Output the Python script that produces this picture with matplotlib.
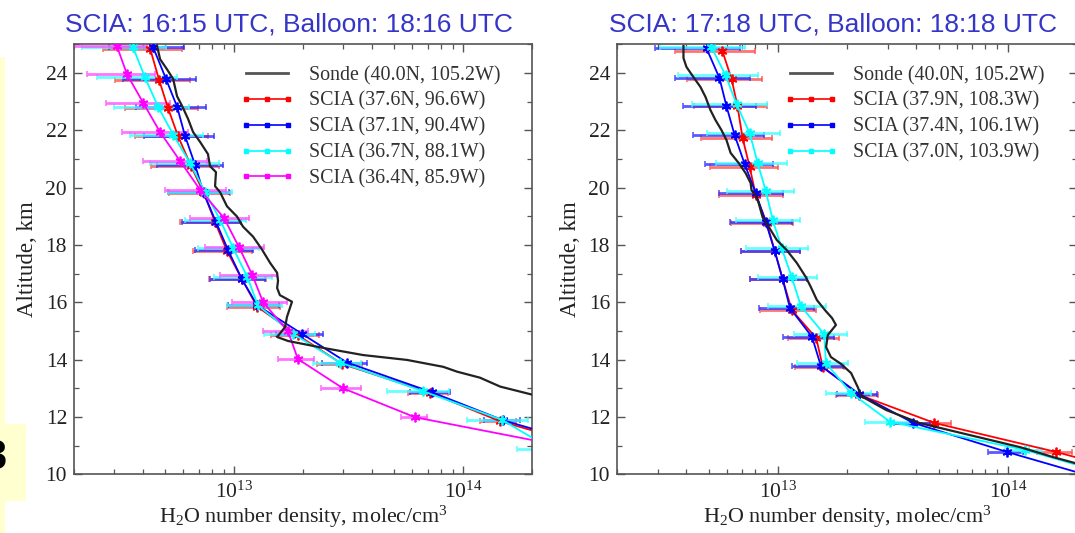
import numpy as np
import matplotlib
matplotlib.use('Agg')
import matplotlib.pyplot as plt
from matplotlib.lines import Line2D
from matplotlib.patches import Rectangle
from matplotlib.ticker import MultipleLocator, LogLocator, NullFormatter

# ---------------- data ----------------
# Left panel: sonde profile (log10 density, altitude km)
sondeL_logx = [12.664, 12.677, 12.707, 12.734, 12.751, 12.773, 12.799, 12.821, 12.852, 12.886,
               12.895, 12.921, 12.917, 12.939, 12.969, 13.013, 13.039, 13.083, 13.122, 13.157,
               13.188, 13.192, 13.188, 13.200, 13.253, 13.231, 13.223, 13.188, 13.236, 13.389,
               13.563, 13.755, 13.913, 13.974, 14.074, 14.162, 14.301, 14.42]
sondeL_alt = [24.93, 24.48, 24.13, 23.79, 23.19, 22.85, 22.40, 21.94, 21.59, 21.17,
              20.75, 20.54, 20.05, 19.84, 19.35, 18.99, 18.64, 18.29, 17.84, 17.38,
              17.03, 16.75, 16.50, 16.25, 16.02, 15.49, 15.14, 14.79, 14.65, 14.41,
              14.16, 13.99, 13.75, 13.58, 13.37, 13.06, 12.78, 12.50]

redL_alt = [24.85, 23.77, 22.77, 21.80, 20.75, 19.80, 18.80, 17.80, 16.82, 15.85, 14.85, 13.85, 12.85, 11.85, 10.85]
redL_x = [4.30e12, 4.70e12, 5.15e12, 5.69e12, 6.49e12, 7.39e12, 8.26e12, 9.30e12, 1.08e13, 1.26e13,
          1.90e13, 2.96e13, 7.18e13, 1.45e14, 4.0e14]
redL_err = [0.38, 0.36, 0.35, 0.35, 0.33, 0.30, 0.30, 0.29, 0.28, 0.26, 0.24, 0.22, 0.20, 0.18, 0.17]

blueL_alt = [24.90, 23.80, 22.82, 21.80, 20.79, 19.85, 18.80, 17.82, 16.82, 15.90, 14.90, 13.90, 12.86, 11.88, 10.85]
blueL_x = [4.43e12, 5.04e12, 5.64e12, 6.11e12, 6.76e12, 7.33e12, 8.34e12, 9.42e12, 1.08e13, 1.26e13,
           1.98e13, 3.11e13, 7.33e13, 1.50e14, 4.2e14]
blueL_err = [0.36, 0.35, 0.34, 0.34, 0.32, 0.30, 0.29, 0.28, 0.27, 0.25, 0.23, 0.22, 0.20, 0.18, 0.17]

cyanL_alt = [24.90, 23.85, 22.82, 21.85, 20.85, 19.85, 18.87, 17.90, 16.90, 15.90, 14.90, 13.90, 12.90, 11.90, 10.90]
cyanL_x = [3.62e12, 4.08e12, 4.66e12, 5.42e12, 6.43e12, 7.47e12, 8.70e12, 9.90e12, 1.14e13, 1.27e13,
           1.81e13, 2.90e13, 6.68e13, 1.48e14, 2.4e14]
cyanL_err = [0.40, 0.38, 0.36, 0.35, 0.33, 0.31, 0.30, 0.30, 0.28, 0.27, 0.25, 0.24, 0.30, 0.30, 0.28]

magL_alt = [24.93, 23.95, 22.96, 21.94, 20.93, 19.92, 18.94, 17.93, 16.96, 16.00, 14.99, 14.02, 13.00, 11.99, 10.95]
magL_x = [3.08e12, 3.41e12, 4.01e12, 4.75e12, 5.81e12, 7.11e12, 9.04e12, 1.05e13, 1.20e13, 1.34e13,
          1.72e13, 1.90e13, 2.99e13, 6.17e13, 2.88e14]
magL_err = [0.35, 0.33, 0.31, 0.32, 0.31, 0.30, 0.29, 0.29, 0.28, 0.27, 0.22, 0.18, 0.20, 0.13, 0.12]

# Right panel
sondeR_logx = [12.590, 12.590, 12.603, 12.633, 12.664, 12.686, 12.707, 12.729, 12.755, 12.777,
               12.795, 12.830, 12.860, 12.882, 12.886, 12.904, 12.917, 12.934, 12.961, 12.996,
               13.039, 13.083, 13.122, 13.144, 13.170, 13.205, 13.236, 13.253, 13.218, 13.210,
               13.231, 13.275, 13.319, 13.349, 13.362, 13.472, 13.616, 13.834, 14.052, 14.197,
               14.293, 14.40]
sondeR_alt = [24.94, 24.52, 24.21, 23.86, 23.51, 23.16, 22.71, 22.36, 22.01, 21.66,
              21.21, 20.86, 20.51, 20.16, 19.91, 19.74, 19.46, 18.97, 18.63, 18.17,
              17.82, 17.37, 16.88, 16.53, 16.08, 15.73, 15.45, 15.21, 14.86, 14.44,
              14.09, 13.85, 13.53, 13.02, 12.73, 12.24, 11.79, 11.37, 10.95, 10.60,
              10.39, 10.15]

redR_alt = [24.76, 23.78, 22.85, 21.73, 20.72, 19.74, 18.77, 17.79, 16.81, 15.73, 14.75, 13.74, 12.77, 11.79, 10.78, 9.77]
redR_x = [5.75e12, 6.30e12, 6.68e12, 7.03e12, 7.55e12, 8.02e12, 8.95e12, 9.70e12, 1.05e13, 1.15e13,
          1.47e13, 1.57e13, 2.26e13, 4.80e13, 1.62e14, 4.8e14]
redR_err = [0.38, 0.36, 0.35, 0.34, 0.33, 0.31, 0.30, 0.29, 0.28, 0.27, 0.25, 0.24, 0.21, 0.18, 0.17, 0.16]

blueR_alt = [24.86, 23.82, 22.85, 21.84, 20.82, 19.81, 18.80, 17.79, 16.81, 15.80, 14.79, 13.78, 12.80, 11.79, 10.78, 9.77]
blueR_x = [4.90e12, 5.58e12, 5.98e12, 6.49e12, 7.18e12, 8.02e12, 8.87e12, 9.70e12, 1.05e13, 1.13e13,
           1.41e13, 1.54e13, 2.26e13, 3.89e13, 9.91e13, 2.7e14]
blueR_err = [0.40, 0.36, 0.35, 0.34, 0.33, 0.31, 0.30, 0.29, 0.28, 0.27, 0.25, 0.25, 0.20, 0.18, 0.17, 0.16]

cyanR_alt = [24.90, 23.92, 22.91, 21.90, 20.86, 19.88, 18.87, 17.89, 16.88, 15.87, 14.89, 13.88, 12.84, 11.83, 10.85, 9.85]
cyanR_x = [5.15e12, 5.93e12, 6.62e12, 7.55e12, 8.18e12, 8.87e12, 9.51e12, 1.04e13, 1.15e13, 1.26e13,
           1.59e13, 1.62e13, 2.08e13, 3.08e13, 1.19e14, 3.2e14]
cyanR_err = [0.40, 0.38, 0.36, 0.35, 0.34, 0.32, 0.31, 0.30, 0.29, 0.28, 0.26, 0.25, 0.22, 0.22, 0.18, 0.16]

titleL = "SCIA: 16:15 UTC, Balloon: 18:16 UTC"
titleR = "SCIA: 17:18 UTC, Balloon: 18:18 UTC"
labelsL = ["Sonde (40.0N, 105.2W)", "SCIA (37.6N, 96.6W)", "SCIA (37.1N, 90.4W)",
           "SCIA (36.7N, 88.1W)", "SCIA (36.4N, 85.9W)"]
labelsR = ["Sonde (40.0N, 105.2W)", "SCIA (37.9N, 108.3W)", "SCIA (37.4N, 106.1W)",
           "SCIA (37.0N, 103.9W)"]

# ---------------- style ----------------
plt.rcParams['font.family'] = ['Liberation Serif', 'DejaVu Serif']
plt.rcParams['mathtext.fontset'] = 'custom'
plt.rcParams['mathtext.rm'] = 'Liberation Serif'
plt.rcParams['mathtext.it'] = 'Liberation Serif:italic'
plt.rcParams['mathtext.bf'] = 'Liberation Serif:bold'

W, H = 1075, 533
fig = plt.figure(figsize=(W / 100, H / 100), dpi=100)
fig.patch.set_facecolor('white')

# yellow slide remnants at left (the reference crops a large bold "3" here)
fig.patches.append(Rectangle((0, 0), 5 / W, (H - 57) / H, transform=fig.transFigure,
                             facecolor='#ffffd0', edgecolor='none', zorder=0))
fig.patches.append(Rectangle((0, (H - 501) / H), 26 / W, 77 / H, transform=fig.transFigure,
                             facecolor='#ffffd0', edgecolor='none', zorder=0))
fig.text(6 / W, (H - 458) / H, '3', fontsize=30, fontweight='bold', ha='right', va='center',
         family='Liberation Sans', color='black')

bottom = 1 - 474.3 / H
height = 430 / H
axL = fig.add_axes([74 / W, bottom, 458 / W, height])
axR = fig.add_axes([617 / W, bottom, 460 / W, height])

colors = {'red': '#ff0000', 'blue': '#0000ff', 'cyan': '#00ffff', 'mag': '#ff00ff'}
errcolors = {'red': '#ff5050', 'blue': '#3030ff', 'cyan': '#40ffff', 'mag': '#ff50ff'}


def draw(ax, sonde_logx, sonde_alt, series, title, labels):
    for key, xs, alts, errs in series:
        xs = np.array(xs)
        e = xs * np.array(errs)
        ax.errorbar(xs, alts, xerr=e, fmt='none', ecolor=errcolors[key], elinewidth=2.0,
                    capsize=2.5, capthick=1.2, alpha=0.8, zorder=2)
    for key, xs, alts, errs in series:
        ax.plot(xs, alts, color=colors[key], lw=1.3, marker=(6, 2, 0), ms=7, mew=1.3, zorder=3)
    ax.plot(10 ** np.array(sonde_logx), sonde_alt, color='#222222', lw=1.6, zorder=4)

    ax.set_xscale('log')
    ax.set_xlim(2e12, 2e14)
    ax.set_ylim(10, 25)
    ax.yaxis.set_major_locator(MultipleLocator(2))
    ax.yaxis.set_minor_locator(MultipleLocator(1))
    ax.xaxis.set_major_locator(LogLocator(base=10, numticks=10))
    ax.xaxis.set_minor_locator(LogLocator(base=10, subs=np.arange(2, 10), numticks=10))
    ax.xaxis.set_minor_formatter(NullFormatter())
    ax.tick_params(which='both', direction='in', top=True, right=True, color='#555555',
                   labelcolor='#222222')
    ax.tick_params(which='major', length=6, width=1.0, labelsize=15.5, pad=5)
    ax.tick_params(which='minor', length=3.3, width=0.9)
    for s in ax.spines.values():
        s.set_color('#555555')
        s.set_linewidth(1.2)
    ax.set_xlabel(r'H$_2$O number density, molec/cm$^3$', fontsize=15.8, color='#222222',
                  labelpad=1)
    ax.set_ylabel('Altitude, km', fontsize=16.5, color='#222222', labelpad=5)
    ax.set_title(title, fontsize=19, color='#3535c8', family='Liberation Sans', x=0.47, pad=9)

    handles = [Line2D([], [], color='#555555', lw=2.0)]
    for key, _, _, _ in series:
        handles.append(Line2D([], [], color=colors[key], lw=1.2, marker='s', ms=2.8))
    leg = ax.legend(handles, labels, loc='upper left', bbox_to_anchor=(0.362, 0.95),
                    frameon=False, fontsize=14.4, numpoints=3, handlelength=2.7,
                    handletextpad=0.75, labelspacing=0.33, borderpad=0, borderaxespad=0)
    for t in leg.get_texts():
        t.set_color('#333333')


draw(axL, sondeL_logx, sondeL_alt,
     [('red', redL_x, redL_alt, redL_err), ('blue', blueL_x, blueL_alt, blueL_err),
      ('cyan', cyanL_x, cyanL_alt, cyanL_err), ('mag', magL_x, magL_alt, magL_err)],
     titleL, labelsL)
draw(axR, sondeR_logx, sondeR_alt,
     [('red', redR_x, redR_alt, redR_err), ('blue', blueR_x, blueR_alt, blueR_err),
      ('cyan', cyanR_x, cyanR_alt, cyanR_err)],
     titleR, labelsR)

fig.savefig('out.png', dpi=100)
